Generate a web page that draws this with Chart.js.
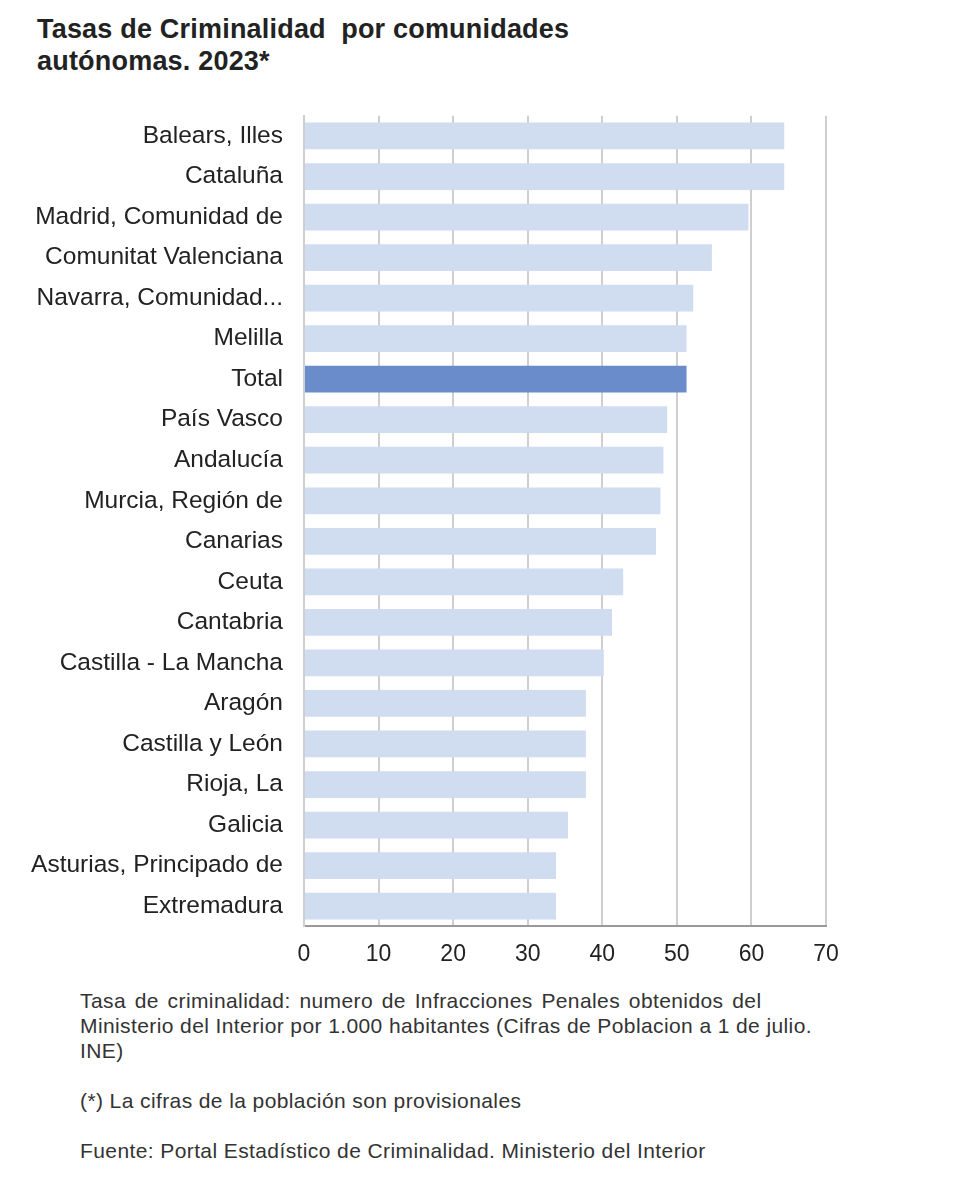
<!DOCTYPE html>
<html lang="es">
<head>
    <meta charset="UTF-8">
    <title>Tasas de Criminalidad por comunidades autónomas. 2023*</title>
    <script src="https://cdn.jsdelivr.net/npm/chart.js"></script>
    <style>
        body {
            margin: 0;
            width: 960px;
            height: 1200px;
            background: #fff;
            font-family: "Liberation Sans", Arial, sans-serif;
            color: #222;
            position: relative;
            overflow: hidden;
        }

        h2 {
            position: absolute;
            left: 37px;
            top: 13px;
            margin: 0;
            font-size: 27px;
            line-height: 32px;
            font-weight: bold;
            color: #222;
            letter-spacing: 0.2px;
        }

        .chart-box {
            position: absolute;
            left: 0;
            top: 88px;
            width: 860px;
            height: 894px;
        }

        .notes {
            position: absolute;
            left: 80px;
            top: 988px;
            font-size: 21px;
            line-height: 25px;
            letter-spacing: 0.4px;
            color: #333;
        }

        .notes p {
            margin: 0 0 25px 0;
        }

        .wide {
            word-spacing: 2.5px;
        }
    </style>
</head>

<body>
    <h2>Tasas de Criminalidad&nbsp; por comunidades<br>autónomas. 2023*</h2>

    <div class="chart-box">
        <canvas id="crimeChart"></canvas>
    </div>

    <div class="notes">
        <p><span class="wide">Tasa de criminalidad: numero de Infracciones Penales obtenidos del</span><br>
            Ministerio del Interior por 1.000 habitantes (Cifras de Poblacion a 1 de julio.<br>
            INE)</p>
        <p>(*) La cifras de la población son provisionales</p>
        <p>Fuente: Portal Estadístico de Criminalidad. Ministerio del Interior</p>
    </div>

    <script>
        // datos (infracciones por 1.000 habitantes)
        const regions = [
            "Balears, Illes", "Cataluña", "Madrid, Comunidad de", "Comunitat Valenciana",
            "Navarra, Comunidad...", "Melilla", "Total", "País Vasco", "Andalucía",
            "Murcia, Región de", "Canarias", "Ceuta", "Cantabria", "Castilla - La Mancha",
            "Aragón", "Castilla y León", "Rioja, La", "Galicia",
            "Asturias, Principado de", "Extremadura"
        ];
        const rates = [
            64.4, 64.4, 59.6, 54.7, 52.2, 51.3, 51.3, 48.7, 48.2, 47.8,
            47.2, 42.8, 41.3, 40.2, 37.8, 37.8, 37.8, 35.4, 33.8, 33.8
        ];
        const xTicks = [0, 10, 20, 30, 40, 50, 60, 70];

        const barColor = "#d0dcef";
        const totalColor = "#6a8ccb";
        const gridColor = "#cfcfcf";

        const ctx = document.getElementById("crimeChart").getContext("2d");
        new Chart(ctx, {
            type: "bar",
            data: {
                labels: regions,
                datasets: [{
                    data: rates,
                    backgroundColor: regions.map(r => r === "Total" ? totalColor : barColor),
                    borderWidth: 0,
                    barPercentage: 0.66,
                    categoryPercentage: 1
                }]
            },
            options: {
                indexAxis: "y",
                responsive: true,
                maintainAspectRatio: false,
                animation: false,
                layout: { padding: { top: 0, right: 34 } },
                plugins: {
                    legend: { display: false },
                    tooltip: { enabled: false }
                },
                scales: {
                    x: {
                        min: 0,
                        max: 70,
                        afterBuildTicks: s => { s.ticks = xTicks.map(v => ({ value: v })); },
                        grid: { color: gridColor, lineWidth: 2, drawTicks: false },
                        border: { color: "#999", width: 2 },
                        ticks: {
                            color: "#222",
                            padding: 14,
                            font: { family: "Liberation Sans", size: 23 }
                        }
                    },
                    y: {
                        afterFit: s => { s.width = 304; },
                        grid: { display: false },
                        border: { color: gridColor, width: 2 },
                        ticks: {
                            color: "#222",
                            padding: 13,
                            autoSkip: false,
                            font: { family: "Liberation Sans", size: 24.5 }
                        }
                    }
                }
            }
        });
    </script>
</body>

</html>
